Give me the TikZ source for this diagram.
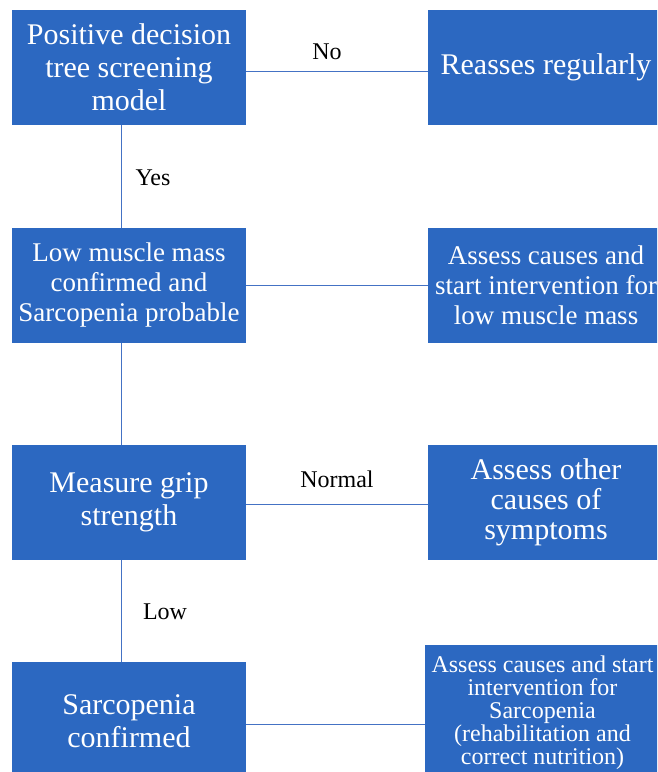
\documentclass[tikz,border=0pt]{standalone}
\usepackage{fontspec}
\setmainfont{Liberation Serif}
\definecolor{boxblue}{RGB}{44,104,193}
\definecolor{lineblue}{RGB}{68,114,196}
\begin{document}
\begin{tikzpicture}[x=1pt,y=-1pt,
  box/.style={fill=boxblue, draw=none, text=white, align=center, inner sep=0pt, minimum width=234pt, minimum height=115pt},
  lbl/.style={text=black, inner sep=0pt, font=\fontsize{24}{27}\selectfont},
  conn/.style={draw=lineblue, line width=1pt}]
\path[use as bounding box, clip] (0,0) rectangle (657,772);
\fill[white] (0,0) rectangle (657,772);
% left column
\node[box, font=\fontsize{30}{33}\selectfont] (b1) at (129,67.5) {Positive decision\\tree screening\\model};
\node[box, font=\fontsize{27}{30}\selectfont] (l2) at (129,285.5) {Low muscle mass\\confirmed and\\Sarcopenia probable};
\node[box, font=\fontsize{30}{33}\selectfont] (l3) at (129,502.5) {Measure grip\\strength};
\node[box, minimum height=118pt, font=\fontsize{30}{33}\selectfont] (l4) at (129,721) {Sarcopenia\\confirmed};
% right column
\node[box, minimum width=236pt, font=\fontsize{30}{33}\selectfont] (r1) at (546,67.5) {Reasses regularly};
\node[box, minimum width=236pt, font=\fontsize{27}{30}\selectfont] (r2) at (546,285.5) {Assess causes and\\start intervention for\\low muscle mass};
\node[box, minimum width=236pt, font=\fontsize{30}{30}\selectfont] (r3) at (546,502.5) {Assess other\\causes of\\symptoms};
\node[box, minimum width=235pt, minimum height=135pt, font=\fontsize{24}{23}\selectfont] (r4) at (542.5,712.5) {Assess causes and start\\intervention for\\Sarcopenia\\(rehabilitation and\\correct nutrition)};
% connectors
\draw[conn] ([yshift=-3.5pt]b1.east) -- ([yshift=-3.5pt]b1.east -| r1.west);
\draw[conn] (l2.east) -- (l2.east -| r2.west);
\draw[conn] ([yshift=-1.5pt]l3.east) -- ([yshift=-1.5pt]l3.east -| r3.west);
\draw[conn] ([yshift=-3pt]l4.east) -- ([yshift=-3pt]l4.east -| r4.west);
\draw[conn] ([xshift=-8pt]b1.south) -- ([xshift=-8pt]l2.north);
\draw[conn] ([xshift=-8pt]l2.south) -- ([xshift=-8pt]l3.north);
\draw[conn] ([xshift=-8pt]l3.south) -- ([xshift=-8pt]l4.north);
% labels
\node[lbl] (no) at (327,52) {No};
\node[lbl] (yes) at (153,178) {Yes};
\node[lbl] (normal) at (337,479) {Normal};
\node[lbl] (low) at (165,612) {Low};
\end{tikzpicture}
\end{document}
